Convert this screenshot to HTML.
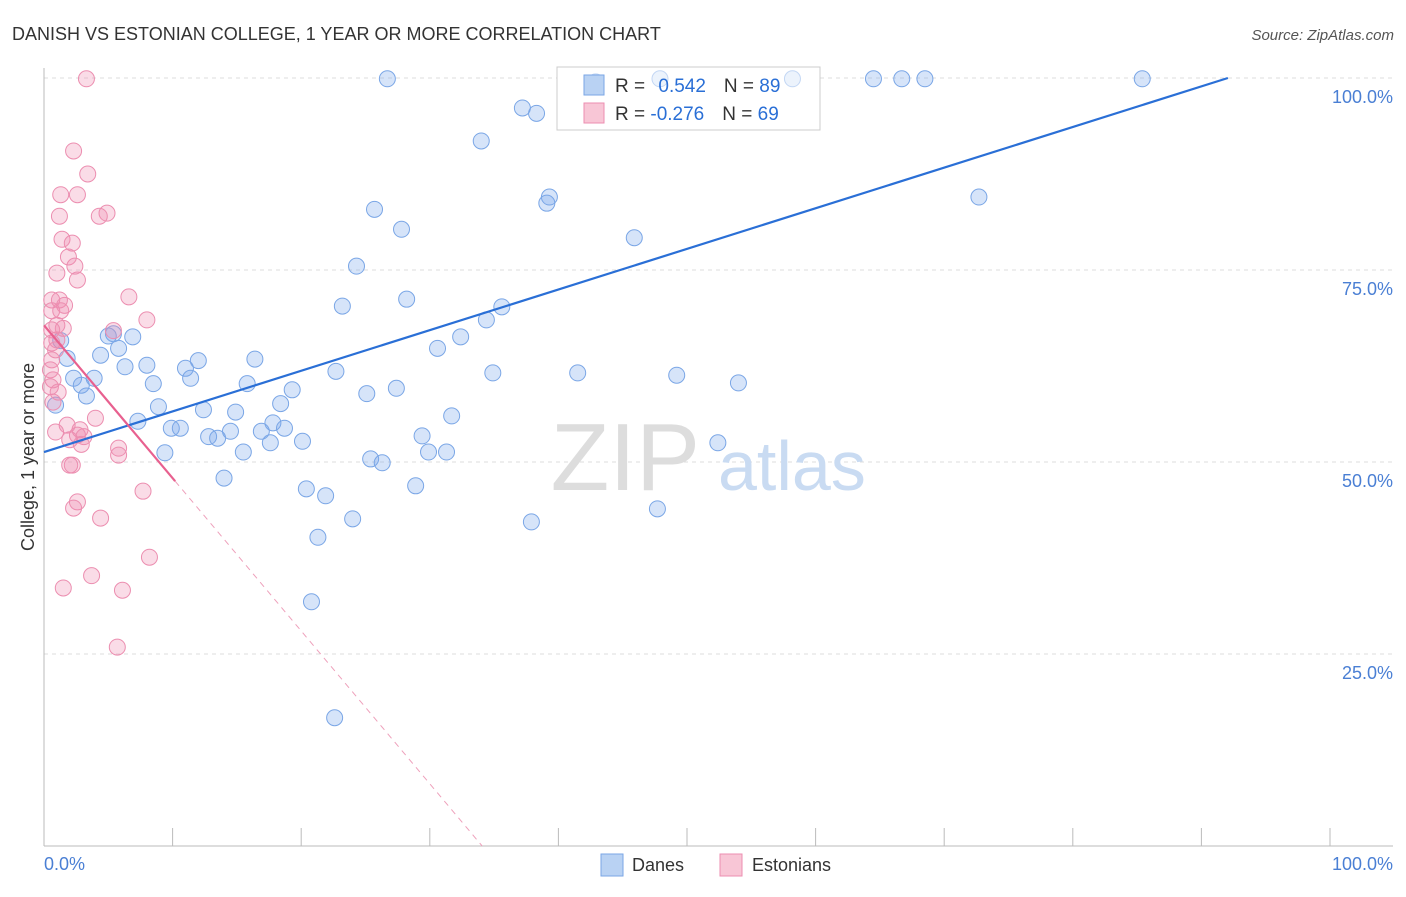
<!DOCTYPE html>
<html><head><meta charset="utf-8"><style>
body{margin:0;background:#fff;font-family:"Liberation Sans",sans-serif;}
svg text{font-family:"Liberation Sans",sans-serif;}
</style></head><body>
<svg id="chart" width="1406" height="892" viewBox="0 0 1406 892" xmlns="http://www.w3.org/2000/svg">
<text x="12" y="40" font-size="18" fill="#333">DANISH VS ESTONIAN COLLEGE, 1 YEAR OR MORE CORRELATION CHART</text>
<text x="1394" y="40" font-size="15" fill="#555" text-anchor="end" font-style="italic">Source: ZipAtlas.com</text>
<g id="grid"></g>
<text x="700" y="490" font-size="96" fill="#ddd" text-anchor="end" font-family="Liberation Serif">ZIP</text>
<text x="718" y="490" font-size="70" fill="#c9dbf2">atlas</text>
<g>
<rect x="557" y="67" width="263" height="63" fill="#fff" stroke="#ccc"/>
</g>
<g id="pts"></g>
<g id="lines"></g>
<text transform="translate(34,457) rotate(-90)" font-size="18" fill="#333" text-anchor="middle">College, 1 year or more</text>
<g>
<rect x="557" y="67" width="263" height="63" fill="rgba(255,255,255,0.55)" stroke="#ccc"/>
<rect x="584" y="75" width="20" height="20" fill="#b9d2f3" stroke="#7aa6e6"/>
<text x="615" y="92" font-size="19" fill="#333">R = <tspan fill="#2a6fd6" dx="8">0.542</tspan><tspan dx="18">N = </tspan><tspan fill="#2a6fd6">89</tspan></text>
<rect x="584" y="103" width="20" height="20" fill="#f8c6d6" stroke="#ec8eb0"/>
<text x="615" y="120" font-size="19" fill="#333">R = <tspan fill="#2a6fd6">-0.276</tspan><tspan dx="18">N = </tspan><tspan fill="#2a6fd6">69</tspan></text>
</g>
<rect x="601" y="854" width="22" height="22" fill="#b9d2f3" stroke="#7aa6e6"/>
<text x="632" y="871" font-size="18" fill="#333">Danes</text>
<rect x="720" y="854" width="22" height="22" fill="#f8c6d6" stroke="#ec8eb0"/>
<text x="752" y="871" font-size="18" fill="#333">Estonians</text>
<text x="44" y="870" font-size="18" fill="#4a7fd4">0.0%</text>
<text x="1393" y="870" font-size="18" fill="#4a7fd4" text-anchor="end">100.0%</text>
</svg>
<script>
const yTicks=[100,75,50,25];
const yTickLabels=["100.0%","75.0%","50.0%","25.0%"];
const danesX=[26.7,47.9,42.9,58.2,64.5,66.7,68.5,85.4,37.2,38.3,34.0,39.1,39.3,72.7,25.7,27.8,45.9,24.3,28.2,23.2,35.6,34.4,32.4,30.6,5.4,5.0,6.9,1.3,5.8,1.8,4.4,6.3,8.0,11.0,12.0,16.4,22.7,34.9,41.5,49.2,54.0,3.9,11.4,2.3,2.9,8.5,15.8,3.3,19.3,27.4,25.1,18.4,8.9,12.4,14.9,31.7,7.3,17.8,18.7,9.9,10.6,14.5,16.9,29.4,12.8,13.5,20.1,17.6,52.4,29.9,31.3,15.5,9.4,25.4,26.3,14.0,28.9,20.4,21.9,47.7,24.0,37.9,21.3,20.8,22.6,0.9];
const danesY=[99.9,99.9,99.5,99.9,99.9,99.9,99.9,99.9,96.1,95.4,91.8,83.7,84.5,84.5,82.9,80.3,79.2,75.5,71.2,70.3,70.2,68.5,66.3,64.8,66.7,66.4,66.3,65.8,64.8,63.5,63.9,62.4,62.6,62.2,63.2,63.4,61.8,61.6,61.6,61.3,60.3,60.9,60.9,60.9,60.0,60.2,60.2,58.6,59.4,59.6,58.9,57.6,57.2,56.8,56.5,56.0,55.3,55.1,54.4,54.4,54.4,54.0,54.0,53.4,53.3,53.1,52.7,52.5,52.5,51.3,51.3,51.3,51.2,50.4,49.9,47.9,46.9,46.5,45.6,43.9,42.6,42.2,40.2,31.8,16.7,57.4];
const estX=[3.3,2.3,3.4,1.3,2.6,4.9,4.3,1.2,1.4,2.2,1.9,2.4,1.0,2.6,6.6,0.6,1.2,1.6,0.6,1.3,8.0,1.0,1.5,0.6,5.4,1.0,0.6,0.9,0.6,0.5,0.7,0.5,1.1,0.7,4.0,1.8,2.8,0.9,2.6,3.1,2.0,2.9,5.8,5.8,2.0,2.2,7.7,2.6,2.3,4.4,8.2,3.7,1.5,6.1,5.7];
const estY=[99.9,90.5,87.5,84.8,84.8,82.4,82.0,82.0,79.0,78.5,76.7,75.5,74.6,73.7,71.5,71.1,71.1,70.4,69.7,69.7,68.5,67.8,67.4,67.2,67.1,65.9,65.5,64.6,63.3,62.0,60.7,59.8,59.1,57.8,55.7,54.8,54.2,53.9,53.5,53.3,52.9,52.3,51.8,50.9,49.6,49.6,46.2,44.8,44.0,42.7,37.6,35.2,33.6,33.3,25.9];
const danesFit=[51.3,104.2];   // y at x=0, x=100
const estFit=[67.8,-1.99];      // y at x=0, slope per % point
const X0=44,X1=1330,Y0=846,Y1=78;
const sx=v=>X0+(X1-X0)*v/100, sy=v=>Y0-(Y0-Y1)*v/100;
const NS="http://www.w3.org/2000/svg";
function mk(tag,attrs,parent){const e=document.createElementNS(NS,tag);for(const k in attrs)e.setAttribute(k,attrs[k]);parent.appendChild(e);return e;}
const grid=document.getElementById('grid');
yTicks.forEach((t,i)=>{
 const l=mk('line',{x1:X0,x2:1393,y1:sy(t),y2:sy(t),stroke:'#ddd','stroke-dasharray':'4,4'},grid);
 
 
 const tx=mk('text',{x:1393,y:sy(t)+25,'font-size':18,fill:'#4a7fd4','text-anchor':'end'},grid);
 tx.textContent=yTickLabels[i];
 
 
});
const ax=mk('line',{x1:X0,x2:X0,y1:68,y2:Y0,stroke:'#bbb'},grid);


const bx=mk('line',{x1:X0,x2:1393,y1:Y0,y2:Y0,stroke:'#bbb'},grid);


for(let k=1;k<=10;k++){const t=mk('line',{x1:sx(k*10),x2:sx(k*10),y1:828,y2:Y0,stroke:'#bbb'},grid);
 
 }
const pts=document.getElementById('pts');
danesX.forEach((x,i)=>{const c=mk('circle',{cx:sx(x),cy:sy(danesY[i]),r:8,fill:'rgba(120,165,235,0.3)',stroke:'#7aa6e6','stroke-width':1},pts);
 
 });
estX.forEach((x,i)=>{const c=mk('circle',{cx:sx(x),cy:sy(estY[i]),r:8,fill:'rgba(240,140,175,0.3)',stroke:'#ec8eb0','stroke-width':1},pts);
 
 });
const lines=document.getElementById('lines');
const xEnd=(100-danesFit[0])/(danesFit[1]-danesFit[0])*100;
const bl=mk('line',{x1:sx(0),y1:sy(danesFit[0]),x2:sx(xEnd),y2:sy(100),stroke:'#2a6fd6','stroke-width':2.2},lines);


const ey=x=>estFit[0]+estFit[1]*x;
const pl=mk('line',{x1:sx(0),y1:sy(ey(0)),x2:sx(10.2),y2:sy(ey(10.2)),stroke:'#e8608f','stroke-width':2.2},lines);


const x0e=-estFit[0]/estFit[1];
const pd=mk('line',{x1:sx(10.2),y1:sy(ey(10.2)),x2:sx(x0e),y2:sy(0),stroke:'#eea0bb','stroke-width':1,'stroke-dasharray':'6,5'},lines);


</script>
</body></html>
